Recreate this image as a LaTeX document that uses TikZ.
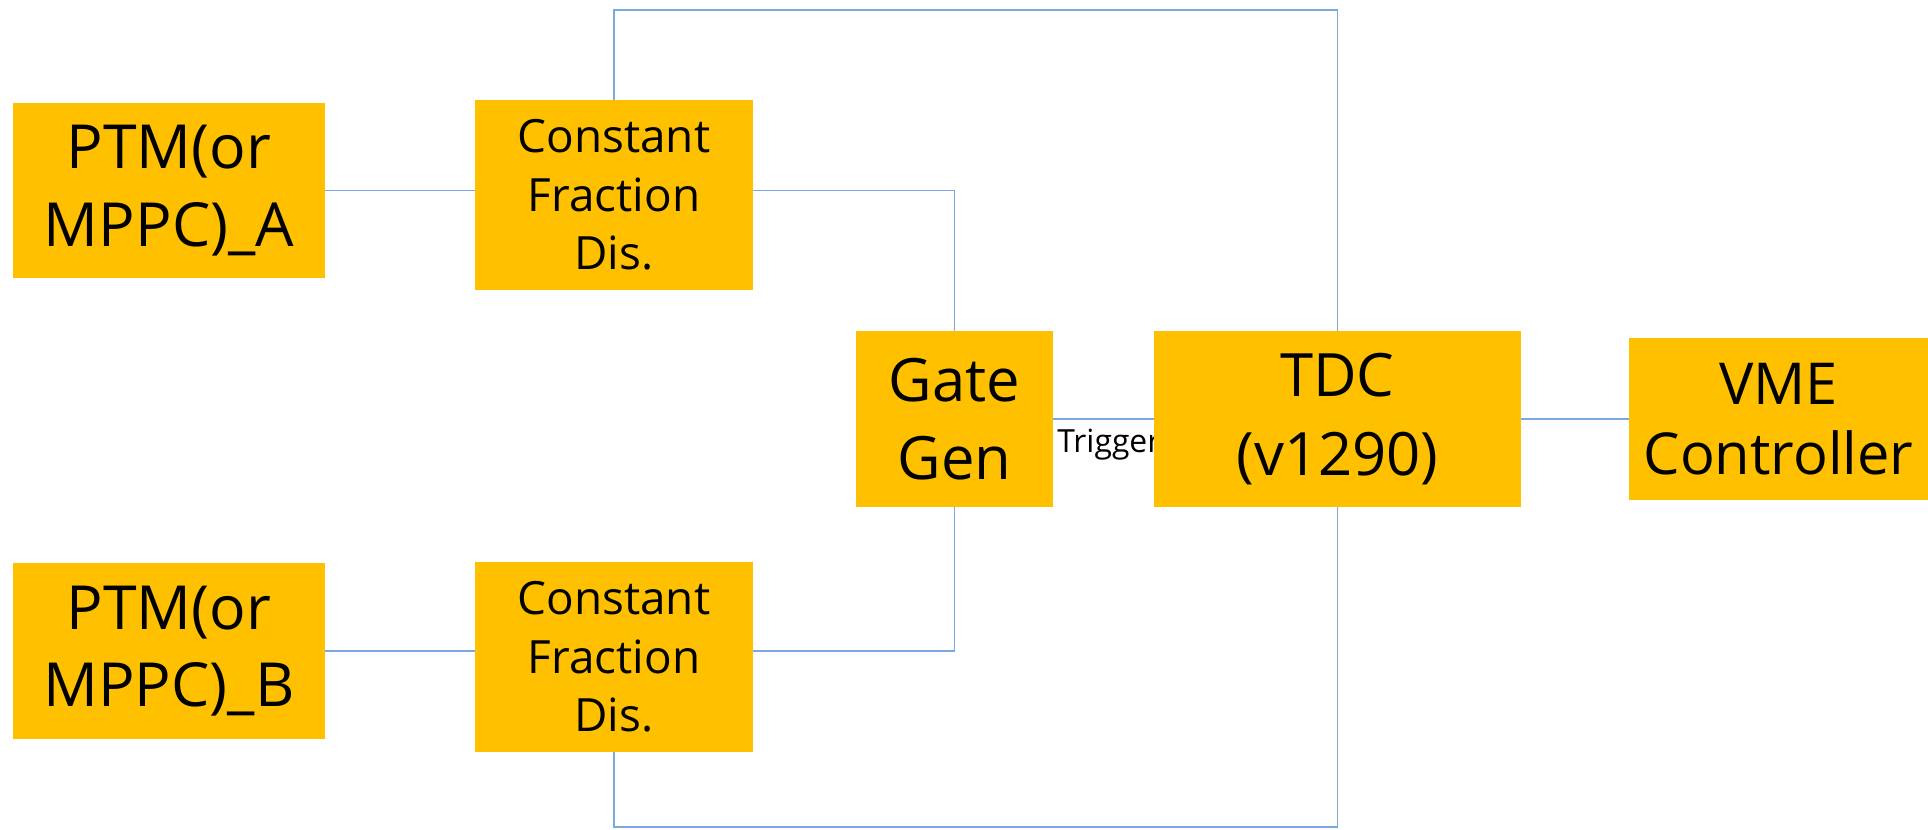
\documentclass[tikz,border=0pt]{standalone}
\usepackage{fontspec}
\setmainfont{Open Sans}
\usetikzlibrary{backgrounds}
\definecolor{boxgold}{HTML}{FFC000}
\definecolor{wireblue}{HTML}{7AA9DF}
\tikzset{
  blockbox/.style={fill=boxgold, inner sep=0pt, align=center, text=black},
  wire/.style={draw=wireblue, line width=1.6bp},
}
\begin{document}
\begin{tikzpicture}[x=1bp, y=-1bp]
\def\ytop{10}
\def\ybot{827}
\def\ymid{419}
\useasboundingbox (0,0) rectangle (1928,830);
\node[blockbox, minimum width=312bp, minimum height=175bp, font=\fontsize{61}{78}\selectfont] (ptmA) at (169, 190.5) {PTM(or\\MPPC)\_A};
\node[blockbox, minimum width=278bp, minimum height=190bp, font=\fontsize{46}{58.5}\selectfont] (cfdA) at (614, 195) {Constant\\Fraction\\Dis.};
\node[blockbox, minimum width=312bp, minimum height=176bp, font=\fontsize{61}{78}\selectfont] (ptmB) at (169, 651) {PTM(or\\MPPC)\_B};
\node[blockbox, minimum width=278bp, minimum height=190bp, font=\fontsize{46}{58.5}\selectfont] (cfdB) at (614, 657) {Constant\\Fraction\\Dis.};
\node[blockbox, minimum width=197bp, minimum height=176bp, font=\fontsize{60}{79}\selectfont] (gate) at (954.5, \ymid) {Gate\\Gen};
\node[blockbox, minimum width=367bp, minimum height=176bp, font=\fontsize{60}{79}\selectfont] (tdc) at (1337.5, \ymid) {TDC\\(v1290)};
\node[blockbox, minimum width=299bp, minimum height=162bp, font=\fontsize{58}{70}\selectfont] (vme) at (1778.5, \ymid) {VME\\Controller};
\coordinate (top) at (0, \ytop);
\coordinate (bot) at (0, \ybot);

% edges
\begin{scope}[on background layer]
\draw[wire] (ptmA.east) -- (ptmA.east -| cfdA.west); % A to cfd
\draw[wire] (ptmB.east) -- (ptmB.east -| cfdB.west); % B to cfd
\draw[wire] (ptmA.east -| cfdA.east) -- (ptmA.east -| gate.north) -- (gate.north); % cfd A to gate
\draw[wire] (ptmB.east -| cfdB.east) -- (ptmB.east -| gate.south) -- (gate.south); % cfd B to gate
\draw[wire] (gate.east) -- (tdc.west); % trigger
\node[anchor=base west, inner sep=0pt, font=\fontsize{32}{38}\selectfont] (trig) at ([xshift=4bp, yshift=-33bp]gate.east) {Trigger};
\draw[wire] (tdc.east) -- (vme.west); % tdc to vme
\draw[wire] (cfdA.north) -- (cfdA.north |- top) -- (tdc.north |- top) -- (tdc.north); % cfd A to tdc
\draw[wire] (cfdB.south) -- (cfdB.south |- bot) -- (tdc.south |- bot) -- (tdc.south); % cfd B to tdc
\end{scope}
\end{tikzpicture}
\end{document}
